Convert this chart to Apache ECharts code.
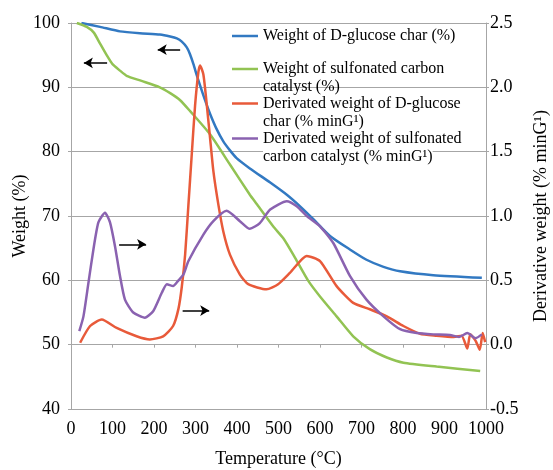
<!DOCTYPE html>
<html>
<head>
<meta charset="utf-8">
<script src="https://cdn.jsdelivr.net/npm/echarts@6/dist/echarts.min.js"></script>
<style>
  html, body { margin: 0; padding: 0; background: #fff; }
  #main { width: 553px; height: 470px; }
</style>
</head>
<body>
<div id="main"></div>
<script>
// temperature (°C) / weight (%) of D-glucose char
var charTemp = [25, 70, 118, 166, 214, 239, 255, 267, 279, 287, 295, 303, 311, 323, 335, 351, 367, 383, 399, 431, 480, 520, 552, 584, 624, 672, 712, 753, 793, 873, 990];
var charWeight = [100, 99.4, 98.7, 98.4, 98.2, 97.9, 97.6, 97.1, 96.2, 95.1, 93.6, 91.9, 90.3, 88.0, 85.9, 83.5, 81.6, 80.2, 79.0, 77.4, 75.2, 73.3, 71.5, 69.5, 66.9, 64.8, 63.2, 62.1, 61.4, 60.8, 60.4];

// weight (%) of sulfonated carbon catalyst
var catTemp = [14, 38, 55, 70, 86, 100, 118, 134, 170, 214, 239, 263, 287, 335, 383, 431, 447, 487, 512, 540, 571, 600, 640, 680, 720, 761, 801, 881, 986];
var catWeight = [100, 99.4, 98.5, 96.8, 95.0, 93.6, 92.6, 91.8, 91.0, 90.0, 89.1, 88.0, 86.3, 82.7, 78.0, 73.3, 71.9, 68.4, 66.5, 63.5, 60.0, 57.5, 54.4, 51.3, 49.3, 48.0, 47.2, 46.6, 45.9];

// derivative weight (% minG¹) of D-glucose char
var dCharTemp = [22, 46, 74, 110, 158, 190, 222, 246, 259, 267, 275, 283, 291, 299, 307, 311, 319, 327, 335, 343, 355, 367, 383, 407, 427, 471, 499, 528, 568, 600, 640, 680, 720, 761, 801, 841, 881, 922, 941, 955, 962, 975, 985, 992, 998];
var dCharValue = [0.015, 0.145, 0.195, 0.13, 0.065, 0.04, 0.065, 0.145, 0.28, 0.45, 0.7, 1.09, 1.48, 1.86, 2.12, 2.17, 2.1, 1.87, 1.61, 1.35, 1.09, 0.88, 0.7, 0.545, 0.47, 0.43, 0.47, 0.56, 0.69, 0.65, 0.455, 0.325, 0.275, 0.22, 0.145, 0.085, 0.07, 0.06, 0.07, -0.03, 0.08, 0.03, -0.04, 0.09, 0.02];

// derivative weight (% minG¹) of sulfonated carbon catalyst
var dCatTemp = [20, 30, 42, 54, 66, 82, 94, 106, 118, 130, 150, 178, 198, 219, 231, 246, 259, 271, 283, 319, 343, 375, 407, 431, 455, 480, 520, 544, 568, 600, 632, 672, 712, 753, 793, 833, 873, 913, 935, 955, 975, 990];
var dCatValue = [0.105, 0.22, 0.48, 0.74, 0.95, 1.025, 0.95, 0.765, 0.535, 0.35, 0.25, 0.21, 0.26, 0.405, 0.47, 0.455, 0.5, 0.545, 0.65, 0.855, 0.96, 1.04, 0.96, 0.9, 0.945, 1.05, 1.115, 1.075, 1.0, 0.92, 0.79, 0.535, 0.35, 0.22, 0.12, 0.09, 0.08, 0.075, 0.06, 0.09, 0.05, 0.08];

// arrows: [fromTemp, toTemp, value]
var leftArrows = [[87, 31, 93.8], [263, 209, 95.85]];
var rightArrows = [[116, 181, 0.78], [269, 333, 0.265]];

var names = [
  "Weight of D-glucose char (%)",
  "Weight of sulfonated carbon catalyst (%)",
  "Derivated weight of D-glucose char (% minG¹)",
  "Derivated weight of sulfonated carbon catalyst (% minG¹)"
];
// legend text, first line beside the icon, second line below
var legendLine1 = ["Weight of D-glucose char (%)", "Weight of sulfonated carbon", "Derivated weight of D-glucose", "Derivated weight of sulfonated"];
var legendLine2 = ["", "catalyst (%)", "char (% minG¹)", "carbon catalyst (% minG¹)"];
var legendY = [36, 69, 103.5, 138.5];
var legendY2 = [0, 87, 122, 157];

var colors = ["#3279c2", "#92c353", "#e85a3a", "#8a62b0"];

var FONT = "Liberation Serif";
var GRAY = "#a6a6a6";

function zip(a, b) {
  return a.map(function (v, i) { return [v, b[i]]; });
}
function arrowData(list) {
  return list.map(function (a) {
    return [{ coord: [a[0], a[2]] }, { coord: [a[1], a[2]] }];
  });
}
var arrowStyle = {
  silent: true,
  symbol: ["none", "arrow"],
  symbolSize: [8, 9],
  lineStyle: { color: "#000", width: 1.5, type: "solid" },
  label: { show: false },
  emphasis: { disabled: true },
  animation: false
};

function legendBox(i) {
  return {
    orient: "vertical",
    left: 232,
    top: legendY[i] - 9,
    padding: 0,
    icon: "rect",
    itemWidth: 26,
    itemHeight: 2.5,
    selectedMode: false,
    data: [names[i]],
    formatter: function () { return legendLine1[i]; },
    textStyle: { fontFamily: FONT, fontSize: 16, color: "#000", lineHeight: 18, backgroundColor: i >= 2 ? "#fff" : "transparent" }
  };
}
function legendSecondLine(i) {
  return {
    type: "text",
    left: 263,
    top: legendY2[i] - 9,
    z: 100,
    style: {
      text: legendLine2[i],
      font: "16px '" + FONT + "'",
      fill: "#000",
      lineHeight: 18,
      backgroundColor: i >= 2 ? "#fff" : "transparent"
    }
  };
}

function lineSeries(i, axis, xs, ys) {
  return {
    name: names[i], type: "line", yAxisIndex: axis,
    symbol: "none", smooth: 0.2,
    lineStyle: { width: 2.5, color: colors[i] },
    itemStyle: { color: colors[i] },
    data: zip(xs, ys)
  };
}

var chartDom = document.getElementById("main");
var myChart = echarts.init(chartDom);

var s0 = lineSeries(0, 0, charTemp, charWeight);
s0.markLine = Object.assign({ data: arrowData(leftArrows) }, arrowStyle);
var s2 = lineSeries(2, 1, dCharTemp, dCharValue);
s2.markLine = Object.assign({ data: arrowData(rightArrows) }, arrowStyle);

var option = {
  animation: false,
  backgroundColor: "#fff",
  color: colors,
  grid: { left: 71, top: 23, width: 415, height: 386, outerBoundsMode: "none" },
  legend: [legendBox(0), legendBox(1), legendBox(2), legendBox(3)],
  graphic: [legendSecondLine(1), legendSecondLine(2), legendSecondLine(3)],
  xAxis: {
    type: "value",
    min: 0,
    max: 1000,
    interval: 100,
    name: "Temperature (°C)",
    nameLocation: "middle",
    nameGap: 41,
    nameTextStyle: { fontFamily: FONT, fontSize: 18, color: "#000" },
    axisLine: { show: true, lineStyle: { color: GRAY, width: 1 } },
    axisTick: { show: true, length: 3, lineStyle: { color: GRAY } },
    axisLabel: {
      margin: 11, fontFamily: FONT, fontSize: 18, color: "#000",
      formatter: function (v) { return String(v); }
    },
    splitLine: { show: false }
  },
  yAxis: [
    {
      type: "value",
      position: "left",
      min: 40,
      max: 100,
      interval: 10,
      name: "Weight (%)",
      nameLocation: "middle",
      nameRotate: 90,
      nameGap: 42,
      nameMoveOverlap: false,
      nameTextStyle: { fontFamily: FONT, fontSize: 18, color: "#000" },
      axisLine: { show: true, lineStyle: { color: GRAY, width: 1 } },
      axisTick: { show: true, length: 3, lineStyle: { color: GRAY } },
      axisLabel: { margin: -16, padding: [0, 27, 0, 0], align: "right", fontFamily: FONT, fontSize: 18, color: "#000" },
      splitLine: { show: true, lineStyle: { color: GRAY, width: 1 } }
    },
    {
      type: "value",
      position: "right",
      min: -0.5,
      max: 2.5,
      interval: 0.5,
      name: "Derivative weight (% minG¹)",
      nameLocation: "middle",
      nameRotate: 90,
      nameGap: 46,
      nameMoveOverlap: false,
      nameTextStyle: { fontFamily: FONT, fontSize: 18, color: "#000" },
      axisLine: { show: true, lineStyle: { color: GRAY, width: 1 } },
      axisTick: { show: true, length: 3, lineStyle: { color: GRAY } },
      axisLabel: {
        margin: 4, fontFamily: FONT, fontSize: 18, color: "#000",
        formatter: function (v) { return v.toFixed(1); }
      },
      splitLine: { show: false }
    }
  ],
  series: [
    s0,
    lineSeries(1, 0, catTemp, catWeight),
    s2,
    lineSeries(3, 1, dCatTemp, dCatValue)
  ]
};

option && myChart.setOption(option);
</script>
</body>
</html>
